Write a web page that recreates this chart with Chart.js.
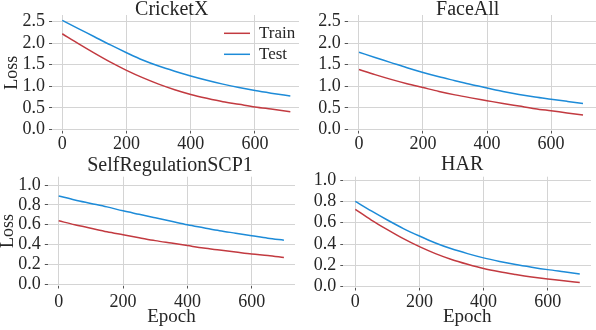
<!DOCTYPE html>
<html>
<head>
<meta charset="utf-8">
<script src="https://cdn.jsdelivr.net/npm/chart.js@4.4.0/dist/chart.umd.min.js"></script>
<style>
  html, body { margin: 0; padding: 0; background: #fff; overflow: hidden; }
  #wrap { position: relative; width: 596px; height: 330px; overflow: hidden; }
  #wrap canvas { position: absolute; }
</style>
</head>
<body>
<div id="wrap">
  <canvas id="c1"></canvas>
  <canvas id="c2"></canvas>
  <canvas id="c3"></canvas>
  <canvas id="c4"></canvas>
</div>
<script>
const epochs = [0, 50, 100, 150, 200, 250, 300, 350, 400, 450, 500, 550, 600, 650, 700];
const epochsCricket = [0, 50, 100, 150, 200, 250, 300, 350, 400, 450, 500, 550, 600, 650, 710];

const cricketTrain = [2.22, 1.99, 1.77, 1.56, 1.37, 1.20, 1.05, 0.92, 0.81, 0.72, 0.64, 0.58, 0.52, 0.47, 0.41];
const cricketTest  = [2.53, 2.34, 2.15, 1.96, 1.78, 1.61, 1.47, 1.35, 1.24, 1.14, 1.05, 0.97, 0.90, 0.84, 0.775];

const faceTrain = [1.39, 1.27, 1.16, 1.06, 0.97, 0.88, 0.80, 0.73, 0.665, 0.60, 0.54, 0.48, 0.43, 0.38, 0.33];
const faceTest  = [1.79, 1.67, 1.55, 1.43, 1.32, 1.22, 1.13, 1.04, 0.96, 0.88, 0.81, 0.75, 0.70, 0.65, 0.60];

const scpTrain = [0.64, 0.60, 0.565, 0.53, 0.50, 0.47, 0.44, 0.415, 0.39, 0.365, 0.345, 0.325, 0.305, 0.29, 0.27];
const scpTest  = [0.89, 0.85, 0.815, 0.78, 0.74, 0.705, 0.67, 0.635, 0.60, 0.57, 0.54, 0.515, 0.49, 0.465, 0.445];

const harTrain = [0.725, 0.625, 0.535, 0.45, 0.375, 0.31, 0.255, 0.21, 0.17, 0.14, 0.115, 0.092, 0.072, 0.055, 0.04];
const harTest  = [0.80, 0.71, 0.625, 0.545, 0.475, 0.41, 0.355, 0.31, 0.27, 0.237, 0.208, 0.183, 0.16, 0.14, 0.12];

const xTicks = [0, 200, 400, 600];
const yTicksTop = [0, 0.5, 1.0, 1.5, 2.0, 2.5];
const yTicksBottom = [0, 0.2, 0.4, 0.6, 0.8, 1.0];

const RED = "#c23a40";
const BLUE = "#1d8bd8";
const TEXT = "#262626";
const GRID = "#d4d4d4";
const SERIF = '"Liberation Serif", "Times New Roman", serif';

Chart.defaults.font.family = SERIF;
Chart.defaults.color = TEXT;

// panel title, placed where the original puts it (not centred on the canvas)
const panelTitle = {
  id: "panelTitle",
  afterDraw(chart, args, opts) {
    const ctx = chart.ctx;
    ctx.save();
    ctx.font = "20px " + SERIF;
    ctx.fillStyle = TEXT;
    ctx.textAlign = "center";
    ctx.textBaseline = "alphabetic";
    ctx.fillText(opts.text, opts.x, opts.y);
    ctx.restore();
  },
};

// legend drawn inside the plot (line handles, no frame)
const lineLegend = {
  id: "lineLegend",
  afterDatasetsDraw(chart, args, opts) {
    if (!opts.show) return;
    const ctx = chart.ctx;
    ctx.save();
    ctx.font = "17px " + SERIF;
    ctx.textBaseline = "middle";
    chart.data.datasets.forEach((ds, i) => {
      const y = opts.y + i * opts.rowGap;
      ctx.strokeStyle = ds.borderColor;
      ctx.lineWidth = 1.5;
      ctx.beginPath();
      ctx.moveTo(opts.x, y);
      ctx.lineTo(opts.x + opts.lineLen, y);
      ctx.stroke();
      ctx.fillStyle = TEXT;
      ctx.fillText(ds.label, opts.x + opts.lineLen + opts.gap, y);
    });
    ctx.restore();
  },
};

const panels = [
  {
    id: "c1", title: "CricketX", x: epochsCricket, train: cricketTrain, test: cricketTest,
    yTicks: yTicksTop, yMin: -0.028, yMax: 2.656, xMin: -32, xMax: 737,
    box: { left: 0, top: 0, w: 300, h: 150 },
    area: { left: 52, top: 15, right: 299, bottom: 130.5 },
    titlePos: { x: 171.7, y: 14.5 }, xPad: 0, yLabel: true, xLabel: false, yTitlePad: 5,
    legend: { show: true, x: 224, y: 33.3, rowGap: 21, lineLen: 26, gap: 9 },
  },
  {
    id: "c2", title: "FaceAll", x: epochs, train: faceTrain, test: faceTest,
    yTicks: yTicksTop, yMin: -0.028, yMax: 2.656, xMin: -35.3, xMax: 740.6,
    box: { left: 296, top: 0, w: 300, h: 150 },
    area: { left: 51.7, top: 15, right: 300, bottom: 130.5 },
    titlePos: { x: 171.7, y: 14.5 }, xPad: 0, yLabel: false, xLabel: false, yTitlePad: 5,
    legend: { show: false },
  },
  {
    id: "c3", title: "SelfRegulationSCP1", x: epochs, train: scpTrain, test: scpTest,
    yTicks: yTicksBottom, yMin: -0.012, yMax: 1.084, xMin: -33.9, xMax: 734.5,
    box: { left: 0, top: 150, w: 300, h: 180 },
    area: { left: 47.8, top: 26.7, right: 295, bottom: 135.5 },
    titlePos: { x: 170, y: 20.5 }, xPad: 3, yLabel: true, xLabel: true, yTitlePad: 1,
    legend: { show: false },
  },
  {
    id: "c4", title: "HAR", x: epochs, train: harTrain, test: harTest,
    yTicks: yTicksBottom, yMin: -0.0075, yMax: 1.031, xMin: -37.4, xMax: 735,
    box: { left: 296, top: 150, w: 300, h: 180 },
    area: { left: 47.3, top: 26.7, right: 295, bottom: 137.5 },
    titlePos: { x: 166.2, y: 20 }, xPad: 1, yLabel: false, xLabel: true, yTitlePad: 1,
    legend: { show: false },
  },
];

function toPoints(xs, ys) {
  return ys.map((v, i) => ({ x: xs[i], y: v }));
}

function makePanel(p) {
  const canvas = document.getElementById(p.id);
  canvas.width = p.box.w;
  canvas.height = p.box.h;
  canvas.style.left = p.box.left + "px";
  canvas.style.top = p.box.top + "px";

  const series = (label, values, color) => ({
    label,
    data: toPoints(p.x, values),
    borderColor: color,
    backgroundColor: color,
    borderWidth: 1.5,
    pointRadius: 0,
    cubicInterpolationMode: "monotone",
  });

  new Chart(canvas, {
    type: "line",
    data: { datasets: [series("Train", p.train, RED), series("Test", p.test, BLUE)] },
    plugins: [lineLegend, panelTitle],
    options: {
      responsive: false,
      animation: false,
      events: [],
      layout: { padding: { left: 0, top: p.area.top, bottom: 0, right: p.box.w - p.area.right } },
      plugins: {
        legend: { display: false },
        tooltip: { enabled: false },
        title: { display: false },
        lineLegend: p.legend,
        panelTitle: { text: p.title, x: p.titlePos.x, y: p.titlePos.y },
      },
      scales: {
        x: {
          type: "linear",
          min: p.xMin,
          max: p.xMax,
          afterBuildTicks: (s) => { s.ticks = xTicks.map((v) => ({ value: v })); },
          afterFit: (s) => { s.height = p.box.h - p.area.bottom; },
          ticks: { font: { size: 18 }, color: TEXT, padding: p.xPad, maxRotation: 0, autoSkip: false },
          grid: { color: GRID, lineWidth: 1, tickLength: 3, tickColor: "#555" },
          border: { display: false },
          title: {
            display: p.xLabel,
            text: "Epoch",
            color: TEXT,
            font: { size: 19 },
            padding: { top: 0, bottom: 1.2 },
          },
        },
        y: {
          min: p.yMin,
          max: p.yMax,
          afterBuildTicks: (s) => { s.ticks = p.yTicks.map((v) => ({ value: v })); },
          afterFit: (s) => { s.width = p.area.left; },
          ticks: { font: { size: 18 }, color: TEXT, padding: 4, autoSkip: false, callback: (v) => v.toFixed(1) },
          grid: { color: GRID, lineWidth: 1, tickLength: 3, tickColor: "#555" },
          border: { display: false },
          title: {
            display: p.yLabel,
            text: "Loss",
            color: TEXT,
            font: { size: 18, lineHeight: 14 / 18 },
            padding: { top: p.yTitlePad, bottom: 0 },
          },
        },
      },
    },
  });
}

panels.forEach(makePanel);
</script>
</body>
</html>
